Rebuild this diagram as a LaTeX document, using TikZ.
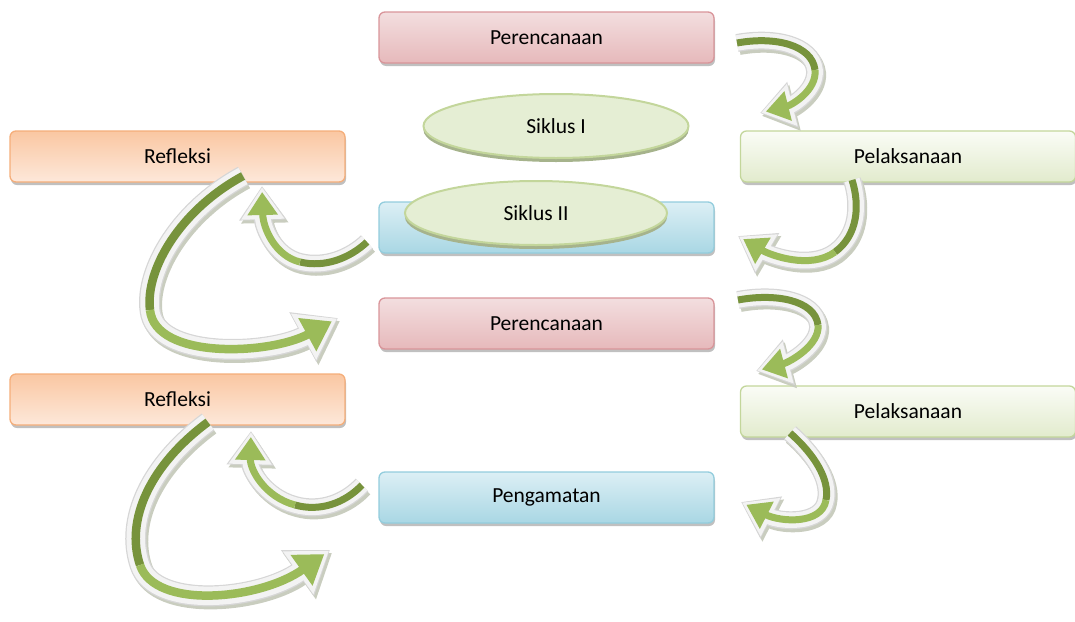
\documentclass[tikz,border=0pt]{standalone}
\usepackage{fontspec}
\setmainfont{Carlito}
\usetikzlibrary{arrows.meta,shadows,shapes.geometric}
\definecolor{pinkB}{HTML}{D9959A}
\definecolor{pinkT}{HTML}{F3DEDF}
\definecolor{pinkBot}{HTML}{E6B9BB}
\definecolor{oraB}{HTML}{F5AE7A}
\definecolor{oraT}{HTML}{FDE8DA}
\definecolor{oraBot}{HTML}{FAC7A2}
\definecolor{grnB}{HTML}{C3D69B}
\definecolor{grnT}{HTML}{FAFCF6}
\definecolor{grnBot}{HTML}{E2EBCD}
\definecolor{bluB}{HTML}{93CDDD}
\definecolor{bluT}{HTML}{DCEFF5}
\definecolor{bluBot}{HTML}{A9D7E4}
\definecolor{ovalF}{HTML}{E5EED4}
\definecolor{ovalS}{HTML}{A6B38C}
\definecolor{gDark}{HTML}{77933C}
\definecolor{gLight}{HTML}{9BBB59}
\definecolor{shC}{HTML}{C9CDBF}
\definecolor{edgeC}{HTML}{D6D6D6}
\definecolor{whC}{HTML}{F3F3F3}
\newcommand\curvedarr[6]{%
  \draw[ashadow#1] (#2) #3 (#4) #5 (#6);
  \draw[aedge#1] (#2) #3 (#4) #5 (#6);
  \draw[awhite#1] (#2) #3 (#4) #5 (#6);
  \draw[adark#1] (#2) #3 (#4);
  \draw[alight#1] (#4) #5 (#6);
}
\begin{document}
\begin{tikzpicture}[x=1pt,y=-1pt,
  font=\fontsize{21.5}{26}\selectfont,
  box/.style={rectangle, rounded corners=6pt, minimum width=335pt, minimum height=51pt,
    line width=1.3pt, inner sep=0pt,
    drop shadow={shadow xshift=1pt, shadow yshift=-3pt, fill=black!45, opacity=.55}},
  pinkbox/.style={box, draw=pinkB, top color=pinkT, bottom color=pinkBot},
  orabox/.style={box, draw=oraB, top color=oraBot, bottom color=oraT},
  grnbox/.style={box, draw=grnB, top color=grnT, bottom color=grnBot},
  blubox/.style={box, draw=bluB, top color=bluT, bottom color=bluBot},
  oval/.style={ellipse, minimum width=265pt, minimum height=64pt, inner sep=0pt,
    draw=grnB, line width=2pt, fill=ovalF,
    drop shadow={shadow xshift=0pt, shadow yshift=-4pt, fill=ovalS, opacity=1}},
  ashadowS/.style={draw=shC, line width=18pt, -{Triangle[length=34pt,width=45pt]},
    transform canvas={shift={(2pt,-3pt)}}},
  aedgeS/.style={draw=edgeC, line width=18pt, -{Triangle[length=34pt,width=45pt]}},
  awhiteS/.style={draw=whC, line width=15.5pt, -{Triangle[length=32pt,width=41pt]}, shorten >=1.2pt},
  adarkS/.style={draw=gDark, line width=7pt},
  alightS/.style={draw=gLight, line width=7pt, -{Triangle[length=23pt,width=29pt]}, shorten >=6pt},
  ashadowB/.style={draw=shC, line width=21pt, -{Triangle[length=40pt,width=54pt]},
    transform canvas={shift={(2pt,-3pt)}}},
  aedgeB/.style={draw=edgeC, line width=21pt, -{Triangle[length=40pt,width=54pt]}},
  awhiteB/.style={draw=whC, line width=18.5pt, -{Triangle[length=38pt,width=50pt]}, shorten >=1.2pt},
  adarkB/.style={draw=gDark, line width=8.5pt},
  alightB/.style={draw=gLight, line width=8.5pt, -{Triangle[length=28pt,width=36pt]}, shorten >=7pt},
]
\useasboundingbox (0,0) rectangle (1075,621);

% boxes
\node[pinkbox] (per1) at (546.5,37.5) {Perencanaan};
\node[orabox] (ref1) at (177.5,156.5) {Refleksi};
\node[grnbox] (pel1) at (908,156.5) {Pelaksanaan};
\node[blubox] (pen1) at (546.5,227.5) {};
\node[pinkbox] (per2) at (546.5,323.5) {Perencanaan};
\node[orabox] (ref2) at (177.5,399.5) {Refleksi};
\node[grnbox] (pel2) at (908,411.5) {Pelaksanaan};
\node[blubox] (pen2) at (546.5,497.5) {Pengamatan};

\node[oval] (sik1) at (556,126) {Siklus I};
\node[oval, minimum width=262pt] (sik2) at (536,213) {Siklus II};

% arrow coordinates
\coordinate (a1s) at (737,43);  \coordinate (a1m) at (815,70);  \coordinate (a1e) at (760,113);
\coordinate (a2s) at (852,180); \coordinate (a2m) at (835,252); \coordinate (a2e) at (738,236);
\coordinate (a3s) at (367,242); \coordinate (a3m) at (300,262); \coordinate (a3e) at (262,186);
\coordinate (a4s) at (243,176); \coordinate (a4m) at (150,310); \coordinate (a4e) at (338,318);
\coordinate (a5s) at (738,300); \coordinate (a5m) at (818,325); \coordinate (a5e) at (756,371);
\coordinate (a6s) at (790,433); \coordinate (a6m) at (826,500); \coordinate (a6e) at (741,502);
\coordinate (a7s) at (362,485); \coordinate (a7m) at (295,505); \coordinate (a7e) at (251,431);
\coordinate (a8s) at (208,422); \coordinate (a8m) at (140,565); \coordinate (a8e) at (330,550);

\curvedarr{S}{a1s}{.. controls (775,36) and (812,45) ..}{a1m}{.. controls (817,90) and (792,105) ..}{a1e}
\curvedarr{S}{a2s}{.. controls (860,205) and (858,235) ..}{a2m}{.. controls (810,270) and (770,255) ..}{a2e}
\curvedarr{S}{a3s}{.. controls (350,258) and (325,268) ..}{a3m}{.. controls (275,256) and (263,228) ..}{a3e}
\curvedarr{B}{a4s}{.. controls (180,210) and (145,270) ..}{a4m}{.. controls (155,360) and (270,355) ..}{a4e}
\curvedarr{S}{a5s}{.. controls (775,293) and (815,300) ..}{a5m}{.. controls (820,345) and (790,362) ..}{a5e}
\curvedarr{S}{a6s}{.. controls (815,455) and (830,480) ..}{a6m}{.. controls (822,525) and (780,522) ..}{a6e}
\curvedarr{S}{a7s}{.. controls (345,503) and (320,512) ..}{a7m}{.. controls (265,497) and (250,470) ..}{a7e}
\curvedarr{B}{a8s}{.. controls (150,465) and (125,520) ..}{a8m}{.. controls (155,610) and (260,600) ..}{a8e}
\end{tikzpicture}
\end{document}
